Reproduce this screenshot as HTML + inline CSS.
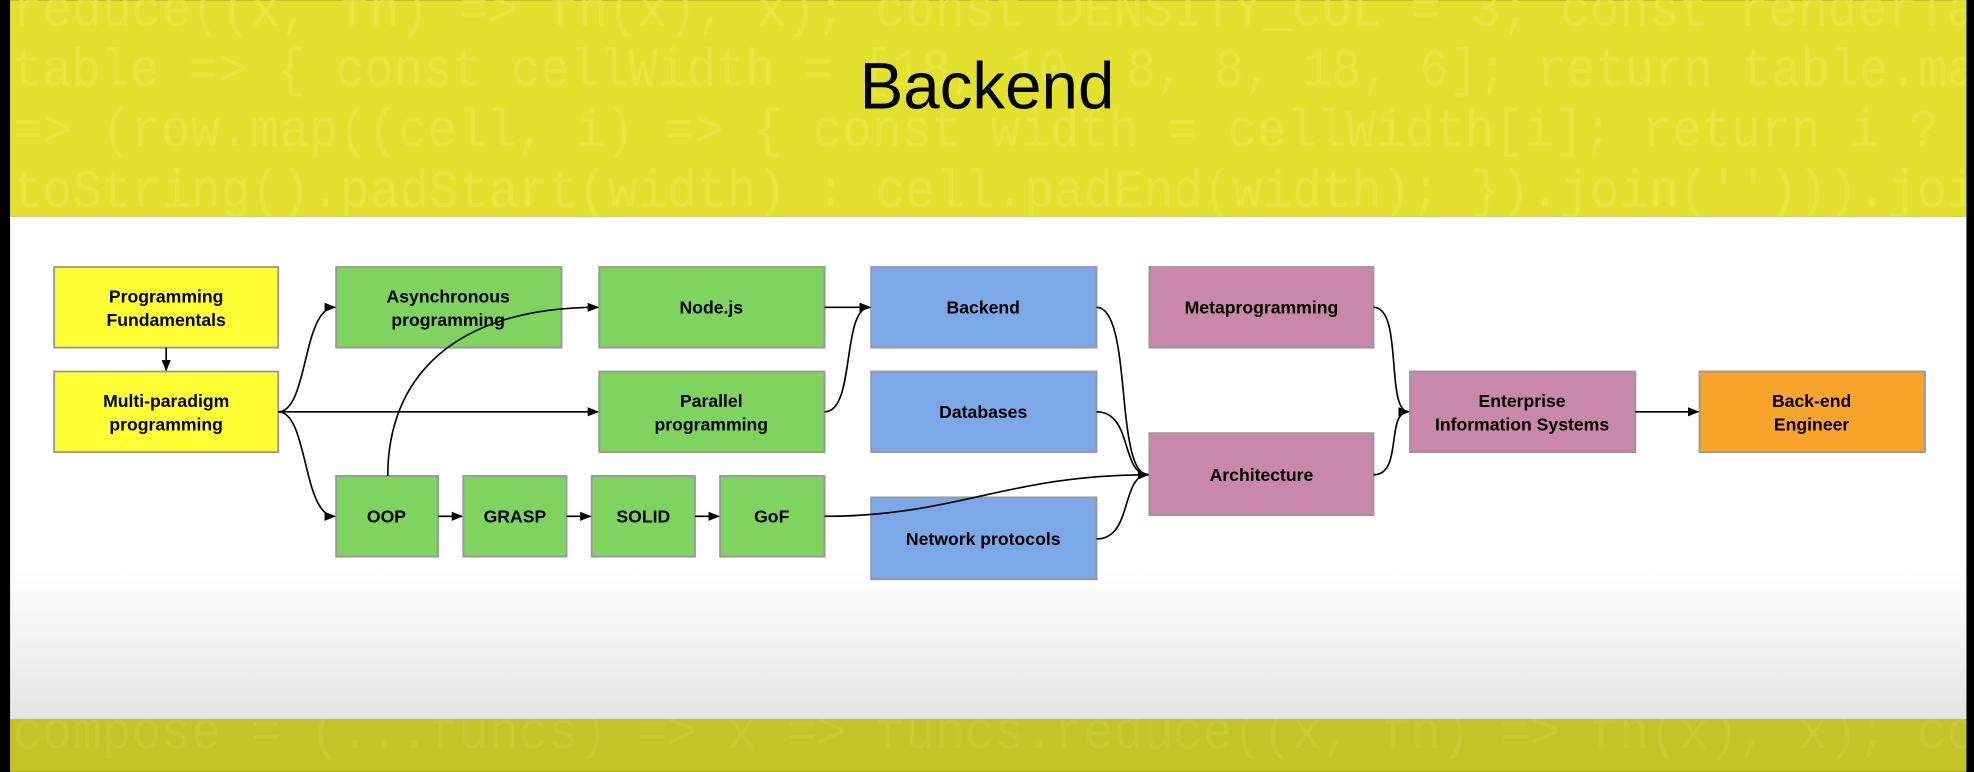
<!DOCTYPE html>
<html><head><meta charset="utf-8"><style>
html,body{margin:0;padding:0;background:#000;width:1974px;height:772px;overflow:hidden;}
svg{display:block;overflow:hidden}
</style></head><body>
<svg width="1974" height="772" viewBox="0 0 1568 613" xmlns="http://www.w3.org/2000/svg" font-family="Liberation Sans, Arial, sans-serif">
<defs>
<linearGradient id="g" x1="0" y1="0" x2="0" y2="1">
<stop offset="0" stop-color="#ffffff"/><stop offset="0.7" stop-color="#ffffff"/><stop offset="1" stop-color="#e4e4e4"/>
</linearGradient>
<clipPath id="top"><rect x="8" y="0" width="1554" height="172"/></clipPath>
<clipPath id="bot"><rect x="8" y="571" width="1554" height="42"/></clipPath>
<marker id="a" viewBox="0 0 10 10" refX="9" refY="5" markerWidth="7" markerHeight="7" orient="auto"><path d="M0,1 L10,5 L0,9 z" fill="#000"/></marker>
</defs>
<rect x="0" y="0" width="1568" height="613" fill="#000"/>
<rect x="8" y="0" width="1554" height="172" fill="#e2e22e"/>
<rect x="8" y="172" width="1554" height="399" fill="url(#g)"/>
<rect x="8" y="571" width="1554" height="42" fill="#c4c428"/>
<g font-family="Liberation Mono, monospace" font-size="42" fill="#e6e63e" clip-path="url(#top)">
<text x="10" y="20" textLength="1560" lengthAdjust="spacingAndGlyphs">reduce((x, fn) =&gt; fn(x), x); const DENSITY_COL = 3; const renderTa</text>
<text x="10" y="68" textLength="1560" lengthAdjust="spacingAndGlyphs">table =&gt; { const cellWidth = [18, 10, 8, 8, 18, 6]; return table.ma</text>
<text x="10" y="116" textLength="1530" lengthAdjust="spacingAndGlyphs">=&gt; (row.map((cell, i) =&gt; { const width = cellWidth[i]; return i ?</text>
<text x="10" y="164" textLength="1560" lengthAdjust="spacingAndGlyphs">toString().padStart(width) : cell.padEnd(width); }).join(''))).joi</text>
</g>
<g font-family="Liberation Mono, monospace" font-size="42" fill="#c9c932" clip-path="url(#bot)">
<text x="10" y="594" textLength="1560" lengthAdjust="spacingAndGlyphs">compose = (...funcs) =&gt; x =&gt; funcs.reduce((x, fn) =&gt; fn(x), x); co</text>
</g>
<text x="784" y="86" text-anchor="middle" font-size="52" fill="#000">Backend</text>

<g stroke="#999" stroke-width="1.5">
<rect x="43" y="212" width="178" height="64" fill="#ffff33"/>
<rect x="43" y="295" width="178" height="64" fill="#ffff33"/>
<rect x="267" y="212" width="179" height="64" fill="#7fd35f"/>
<rect x="476" y="212" width="179" height="64" fill="#7fd35f"/>
<rect x="476" y="295" width="179" height="64" fill="#7fd35f"/>
<rect x="267" y="378" width="81" height="64" fill="#7fd35f"/>
<rect x="368" y="378" width="82" height="64" fill="#7fd35f"/>
<rect x="470" y="378" width="82" height="64" fill="#7fd35f"/>
<rect x="572" y="378" width="83" height="64" fill="#7fd35f"/>
<rect x="692" y="212" width="179" height="64" fill="#7ca8e8"/>
<rect x="692" y="295" width="179" height="64" fill="#7ca8e8"/>
<rect x="692" y="395" width="179" height="65" fill="#7ca8e8"/>
<rect x="913" y="212" width="178" height="64" fill="#c987aa"/>
<rect x="913" y="344" width="178" height="65" fill="#c987aa"/>
<rect x="1120" y="295" width="179" height="64" fill="#c987aa"/>
<rect x="1350" y="295" width="179" height="64" fill="#f9a42b"/>
</g>

<g fill="none" stroke="#000" stroke-width="1.3" marker-end="url(#a)">
<path d="M132,276 L132,294"/>
<path d="M221,327 C245,327 240,244 266,244"/>
<path d="M221,327 L475,327"/>
<path d="M221,327 C245,327 240,410 266,410"/>
<path d="M308,378 C308,300 360,244 475,244"/>
<path d="M655,244 L691,244"/>
<path d="M655,327 C680,327 668,244 691,244"/>
<path d="M348,410 L367,410"/>
<path d="M450,410 L469,410"/>
<path d="M552,410 L571,410"/>
<path d="M655,410 C760,410 800,377 912,377"/>
<path d="M871,244 C900,244 885,377 912,377"/>
<path d="M871,327 C900,327 890,377 912,377"/>
<path d="M871,428 C900,428 890,377 912,377"/>
<path d="M1091,244 C1115,244 1100,327 1119,327"/>
<path d="M1091,377 C1115,377 1100,327 1119,327"/>
<path d="M1299,327 L1349,327"/>
</g>

<g font-size="14" font-weight="bold" fill="#000" text-anchor="middle">
<text x="132" y="240">Programming</text><text x="132" y="259">Fundamentals</text>
<text x="132" y="323">Multi-paradigm</text><text x="132" y="342">programming</text>
<text x="356" y="240">Asynchronous</text><text x="356" y="259">programming</text>
<text x="565" y="249">Node.js</text>
<text x="565" y="323">Parallel</text><text x="565" y="342">programming</text>
<text x="307" y="415">OOP</text>
<text x="409" y="415">GRASP</text>
<text x="511" y="415">SOLID</text>
<text x="613" y="415">GoF</text>
<text x="781" y="249">Backend</text>
<text x="781" y="332">Databases</text>
<text x="781" y="433">Network protocols</text>
<text x="1002" y="249">Metaprogramming</text>
<text x="1002" y="382">Architecture</text>
<text x="1209" y="323">Enterprise</text><text x="1209" y="342">Information Systems</text>
<text x="1439" y="323">Back-end</text><text x="1439" y="342">Engineer</text>
</g>
</svg>
</body></html>
